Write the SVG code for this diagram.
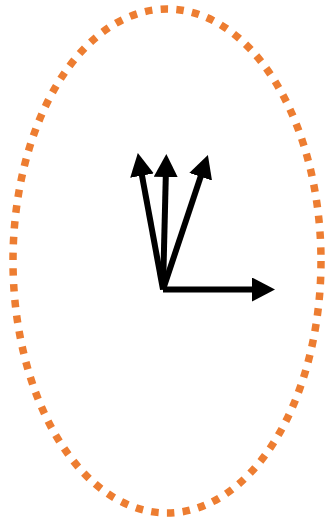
<svg xmlns="http://www.w3.org/2000/svg" width="325" height="517" viewBox="0 0 325 517">
<style>
.ring{fill:none;stroke:#ED7D31;stroke-width:7.5;stroke-dasharray:7.5 8.3}
.arr{stroke:#000;stroke-width:6;fill:none;marker-end:url(#head)}
</style>
<defs>
<marker id="head" markerUnits="userSpaceOnUse" markerWidth="23" markerHeight="24" viewBox="0 0 23 24" refX="5" refY="12" orient="auto">
<path d="M0,0 L23,12 L0,24 z" fill="#000"/>
</marker>
</defs>
<rect width="325" height="517" fill="#fff"/>
<g id="ellipse">
<ellipse class="ring" cx="167" cy="261" rx="154" ry="252"/>
</g>
<g id="connectors">
<line class="arr" x1="163" y1="289.5" x2="257" y2="289.5"/>
<line class="arr" x1="163" y1="289.5" x2="165.9" y2="172"/>
<line class="arr" x1="163" y1="289.5" x2="141.1" y2="170.7"/>
<line class="arr" x1="163" y1="289.5" x2="202.2" y2="172"/>
</g>
</svg>
